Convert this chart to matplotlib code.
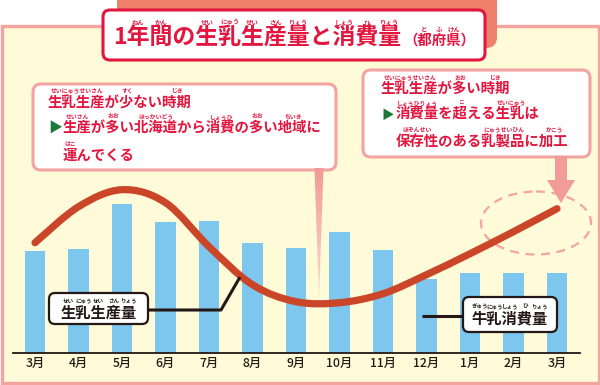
import re
import matplotlib
matplotlib.use("Agg")
import matplotlib.pyplot as plt
from matplotlib.font_manager import FontProperties
from matplotlib.patches import FancyBboxPatch, Rectangle, Polygon, Ellipse, PathPatch
from matplotlib.path import Path

JP = ['Noto Sans CJK JP', 'DejaVu Sans']
plt.rcParams['font.family'] = JP

# data (arbitrary units)
months = ['3月', '4月', '5月', '6月', '7月', '8月', '9月', '10月', '11月', '12月', '1月', '2月', '3月']
consumption = [102, 104, 149, 131, 132, 110, 105, 121, 103, 74, 80, 80, 80]   # 牛乳消費量 (bars)
production = [110, 146, 163, 150, 106, 68, 51, 50, 59, 78, 99, 121, 144]     # 生乳生産量 (curve)

RED = '#e2163e'
PINK = '#f3a3a1'
INK = '#231815'

fig = plt.figure(figsize=(6, 3.85), dpi=100)
renderer = fig.canvas.get_renderer()


def pixel_axes(z):
    a = fig.add_axes([0, 0, 1, 1], zorder=z)
    a.set_xlim(0, 600)
    a.set_ylim(385, 0)
    a.axis('off')
    a.patch.set_visible(False)
    return a


def text_width(s, fp):
    if not s:
        return 0.0
    w, h, d = renderer.get_text_width_height_descent(s, fp, ismath=False)
    return w


def parse_ruby(s):
    plain, rubies = '', []
    for m in re.finditer(r'\[([^|\]]+)\|([^\]]+)\]|([^\[]+)', s):
        if m.group(3):
            plain += m.group(3)
        else:
            start = len(plain)
            plain += m.group(1)
            rubies.append((start, len(plain), m.group(2)))
    return plain, rubies


def ruby_text(a, x, y, markup, size, color, ruby_size, ruby_dy, ha='left'):
    plain, rubies = parse_ruby(markup)
    fp = FontProperties(family=JP, weight='bold', size=size)
    total = text_width(plain, fp)
    if ha == 'center':
        x = x - total / 2
    a.text(x, y, plain, fontproperties=fp, color=color, ha='left', va='center')
    for i0, i1, kana in rubies:
        x0 = x + text_width(plain[:i0], fp)
        x1 = x + text_width(plain[:i1], fp)
        a.text((x0 + x1) / 2, y - ruby_dy, kana, family=JP, size=ruby_size,
               weight='bold', color=color, ha='center', va='center')
    return x + total


# background layer
bg = pixel_axes(0)
bg.add_patch(Rectangle((1.5, 25.5), 597, 357.5, facecolor='#fffad8', edgecolor='#f4a4a0', lw=2.4))
bg.add_patch(FancyBboxPatch((117, -12), 380, 60, boxstyle='round,pad=0,rounding_size=11',
                            facecolor='#ee806c', edgecolor='none'))
bg.add_patch(FancyBboxPatch((103, 10), 382, 50, boxstyle='round,pad=0,rounding_size=7',
                            facecolor='white', edgecolor=RED, lw=2.2))
bg.add_patch(Ellipse((536, 223), 110, 63, fill=False, edgecolor=PINK, lw=1.6, ls=(0, (4, 3))))

# chart layer
ax = fig.add_axes([13 / 600, (385 - 352.7) / 385, 567 / 600, 202.7 / 385], zorder=1)
ax.patch.set_visible(False)
x = list(range(len(months)))
ax.bar(x, consumption, width=0.46, color='#7dc6ee', zorder=1)

# smooth production curve (catmull-rom through monthly points)
pts = list(zip(x, production))
verts, codes = [pts[0]], [Path.MOVETO]
n = len(pts)
for i in range(n - 1):
    p0, p1, p2, p3 = pts[max(i - 1, 0)], pts[i], pts[i + 1], pts[min(i + 2, n - 1)]
    c1 = (p1[0] + (p2[0] - p0[0]) / 6, p1[1] + (p2[1] - p0[1]) / 6)
    c2 = (p2[0] - (p3[0] - p1[0]) / 6, p2[1] - (p3[1] - p1[1]) / 6)
    verts += [c1, c2, p2]
    codes += [Path.CURVE4] * 3
ax.add_patch(PathPatch(Path(verts, codes), fill=False, edgecolor='#cb4528', lw=5.2,
                       capstyle='round', joinstyle='round', zorder=2))

ax.set_xlim(-22 / 43.5, 567 / 43.5 - 22 / 43.5)
ax.set_ylim(0, 202.7)
ax.set_xticks(x)
ax.set_xticklabels(months, fontsize=8.8, color=INK, fontweight='medium')
ax.set_yticks([])
for s in ['top', 'left', 'right']:
    ax.spines[s].set_visible(False)
ax.spines['bottom'].set_color(INK)
ax.spines['bottom'].set_linewidth(1.3)
ax.tick_params(axis='x', length=0, pad=3)

# foreground layer: callouts and labels
fg = pixel_axes(2)

# title
ruby_text(fg, 113, 38, '1[年|ねん][間|かん]の[生|せい][乳|にゅう][生|せい][産|さん][量|りょう]と'
          '[消|しょう][費|ひ][量|りょう]', 16.5, RED, 4.6, 16)
ruby_text(fg, 403, 41, '（[都|と][府|ふ][県|けん]）', 10.4, RED, 4.6, 12)

# left callout
fg.add_patch(FancyBboxPatch((33, 84), 303, 86, boxstyle='round,pad=0,rounding_size=8',
                            facecolor='white', edgecolor=PINK, lw=2.2))
# tail fading toward its tip
steps = 12
for k in range(steps):
    t0, t1 = k / steps, (k + 1) / steps
    ya, yb = 168 + (300 - 168) * t0, 168 + (300 - 168) * t1
    ha_, hb_ = 4.5 * (1 - t0), 4.5 * (1 - t1)
    fg.add_patch(Polygon([(319 - ha_, ya), (319 + ha_, ya), (319 + hb_, yb), (319 - hb_, yb)],
                         closed=True, facecolor='#f29c9a', edgecolor='none',
                         alpha=1 - 0.75 * t0))
ruby_text(fg, 48, 103, '[生乳生産|せいにゅうせいさん]が[少|すく]ない[時期|じき]', 10.4, RED, 4.2, 12)
fg.text(48, 129, '▶', family=JP, size=10, color='#1a7a3a', ha='left', va='center')
ruby_text(fg, 63, 129, '[生産|せいさん]が[多|おお]い[北海道|ほっかいどう]から[消費|しょうひ]の'
          '[多|おお]い[地域|ちいき]に', 10.4, RED, 4.2, 12)
ruby_text(fg, 63, 156, '[運|はこ]んでくる', 10.4, RED, 4.2, 12)

# right callout
fg.add_patch(FancyBboxPatch((363, 70), 227, 87, boxstyle='round,pad=0,rounding_size=8',
                            facecolor='white', edgecolor=PINK, lw=2.2))
fg.add_patch(Polygon([(555, 156), (567, 156), (567, 180), (575, 180), (561, 203),
                      (547, 180), (555, 180)], closed=True, facecolor='#f29c9a', edgecolor='none'))
ruby_text(fg, 381, 90, '[生乳生産|せいにゅうせいさん]が[多|おお]い[時期|じき]', 10.4, RED, 4.2, 12)
fg.text(381, 115, '▶', family=JP, size=9, color='#1a7a3a', ha='left', va='center')
ruby_text(fg, 396, 115, '[消費量|しょうひりょう]を[超|こ]える[生乳|せいにゅう]は', 10.4, RED, 4.2, 12)
ruby_text(fg, 396, 142, '[保存性|ほぞんせい]のある[乳製品|にゅうせいひん]に[加工|かこう]', 10.4, RED, 4.2, 12)

# series labels
fg.plot([148, 221, 240], [310, 310, 277], color=INK, lw=2.2, solid_capstyle='butt')
fg.add_patch(FancyBboxPatch((49, 293), 99, 31, boxstyle='round,pad=0,rounding_size=6',
                            facecolor='white', edgecolor=INK, lw=1.6))
ruby_text(fg, 98.5, 313, '[生|せい][乳|にゅう][生|せい][産|さん][量|りょう]', 11, INK, 4.0, 12, ha='center')

fg.plot([422, 463], [316, 316], color=INK, lw=2.2, solid_capstyle='butt')
fg.add_patch(FancyBboxPatch((463, 297), 94, 35, boxstyle='round,pad=0,rounding_size=6',
                            facecolor='white', edgecolor=INK, lw=1.6))
ruby_text(fg, 510, 319, '[牛|ぎゅう][乳|にゅう][消|しょう][費|ひ][量|りょう]', 11, INK, 4.0, 12, ha='center')

fig.savefig('out.png', dpi=100)
